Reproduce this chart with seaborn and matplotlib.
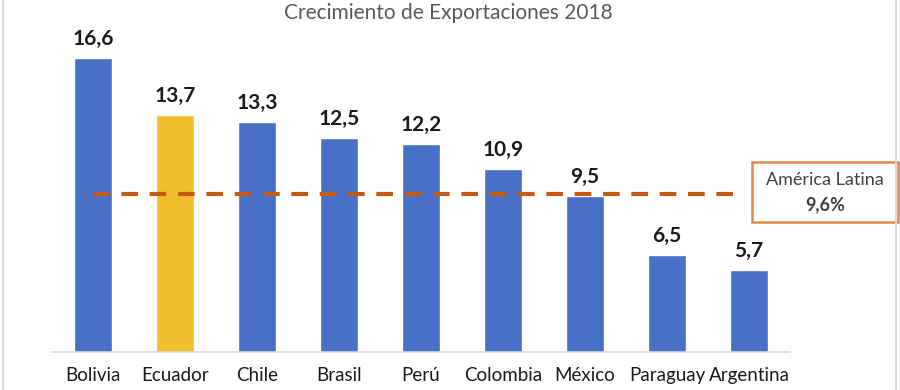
import matplotlib
matplotlib.use("Agg")
import matplotlib.pyplot as plt
import seaborn as sns
import pandas as pd
from matplotlib.patches import Rectangle
from matplotlib.lines import Line2D

countries = ["Bolivia", "Ecuador", "Chile", "Brasil", "Perú", "Colombia", "México", "Paraguay", "Argentina"]
growth = [16.6, 13.7, 13.3, 12.5, 12.2, 10.9, 9.5, 6.5, 5.7]
labels = ["16,6", "13,7", "13,3", "12,5", "12,2", "10,9", "9,5", "6,5", "5,7"]
latam_avg = 9.6
latam_label = "9,6%"
title = "Crecimiento de Exportaciones 2018"

BLUE = "#4770C6"
YELLOW = "#F0BF2E"
ORANGE_LINE = "#C55A11"
ORANGE_BOX = "#E0894A"

df = pd.DataFrame({"pais": countries, "crec": growth})
palette = {c: (YELLOW if c == "Ecuador" else BLUE) for c in countries}

sns.set_theme(style="white")
plt.rcParams["font.family"] = ["Lato", "DejaVu Sans"]

W, H = 900, 390
fig = plt.figure(figsize=(9, 3.9), dpi=100)
ax = fig.add_axes([52 / W, 38 / H, (790 - 52) / W, 340 / H])

sns.barplot(data=df, x="pais", y="crec", hue="pais", palette=palette,
            order=countries, width=0.475, legend=False, ax=ax, saturation=1)

ymin = 1.49
ax.set_ylim(ymin, ymin + 340 / 19.45)
ax.set_xlim(-0.5, len(countries) - 0.5)

for i, (v, lab) in enumerate(zip(growth, labels)):
    ax.annotate(lab, (i, v), xytext=(0, 6.5), textcoords="offset points",
                ha="center", va="bottom", fontsize=15, fontweight="bold", color="#1a1a1a")

ax.hlines(latam_avg, 0, 7.9, colors=ORANGE_LINE, linestyles=(0, (4, 2.8)), linewidth=3)

for s in ["top", "right", "left"]:
    ax.spines[s].set_visible(False)
ax.spines["bottom"].set_color("#D9D9D9")
ax.spines["bottom"].set_linewidth(1.2)
ax.set_yticks([])
ax.set_xlabel("")
ax.set_ylabel("")
ax.tick_params(axis="x", length=0, pad=11, labelsize=13.5, colors="#1a1a1a")

fig.text(448 / W, 1 - 13 / H, title, ha="center", va="center", fontsize=15, color="#595959")

# Annotation box
fig.patches.append(Rectangle((752 / W, (H - 222) / H), 146 / W, 60 / H,
                             transform=fig.transFigure, fill=True, facecolor="white",
                             edgecolor=ORANGE_BOX, linewidth=1.8))
fig.text(825 / W, 1 - 180 / H, "América Latina", ha="center", va="center", fontsize=13, color="#404040")
fig.text(825 / W, 1 - 205 / H, latam_label, ha="center", va="center", fontsize=13,
         fontweight="bold", color="#404040")

# Chart frame (left and right edges)
for xp in (3, 896):
    fig.lines.append(Line2D([xp / W, xp / W], [0, 1], transform=fig.transFigure,
                            color="#D9D9D9", linewidth=1.5))

fig.savefig("out.png", dpi=100)
